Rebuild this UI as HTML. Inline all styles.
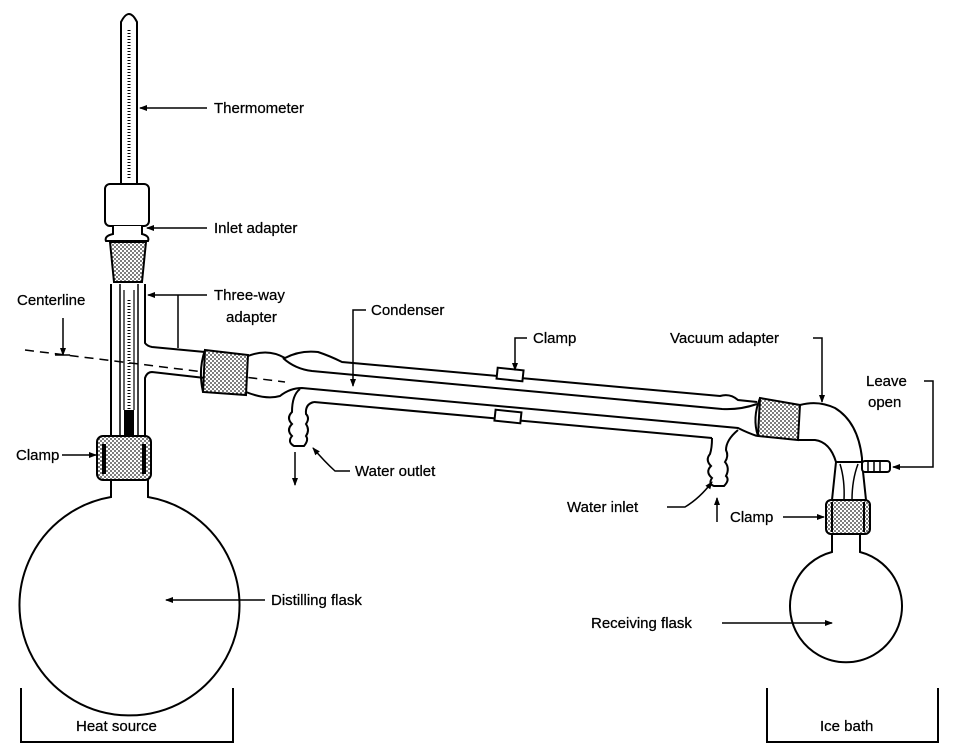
<!DOCTYPE html>
<html><head><meta charset="utf-8"><style>
html,body{margin:0;padding:0;background:#fff;}
svg{display:block;}
text{font-family:"Liberation Sans",sans-serif;font-size:15px;fill:#000;stroke:#000;stroke-width:0.25;}
</style></head><body>
<svg width="960" height="745" viewBox="0 0 960 745" xmlns="http://www.w3.org/2000/svg">
<defs>
<pattern id="dot" width="4" height="4" patternUnits="userSpaceOnUse"><rect width="4" height="4" fill="#fff"/><circle cx="1" cy="1" r="0.9" fill="#222"/><circle cx="3" cy="3" r="0.9" fill="#222"/></pattern>
<marker id="ar" markerWidth="8" markerHeight="8" refX="7" refY="4" orient="auto" markerUnits="userSpaceOnUse"><path d="M0,1 L8,4 L0,7 z" fill="#000"/></marker>
</defs>
<g fill="none" stroke="#000" stroke-width="2">
<!-- thermometer -->
<path d="M121,186 L121,22 Q129,6 137,22 L137,186" fill="#fff"/>
<line x1="129" y1="30" x2="129" y2="180" stroke-width="3" stroke-dasharray="1 2"/>
<rect x="105" y="184" width="44" height="42" rx="5" fill="#fff"/>
<path d="M113,226 L113,234 Q104,236 106,241 L148,241 Q150,236 142,234 L142,226" fill="#fff"/>
<path d="M110,242 L146,242 L142,282 L114,282 Z" fill="url(#dot)"/>
<!-- three-way adapter -->
<path d="M111,284 L111,440 M145,284 L145,343 Q147,346 152,347 L205,352 M145,440 L145,378 Q147,372 152,372 L205,378"/>
<line x1="120" y1="284" x2="120" y2="440" stroke-width="1.5"/>
<line x1="138" y1="284" x2="138" y2="440" stroke-width="1.5"/>
<path d="M124,290 L124,410 M134,290 L134,410" stroke-width="1.2"/>
<path d="M129,300 L129,410" stroke-width="3" stroke-dasharray="1 2"/>
<path d="M125,410 L125,440 L133,440 L133,410" fill="#000"/>
<!-- centerline dashed -->
<path d="M25,350 L285,382" stroke-dasharray="9 6" stroke-width="1.5"/>
<!-- joint 1 -->
<path d="M205,350 L248,355 L246,395 L203,392 Z" fill="url(#dot)"/>
<path d="M205,350 Q198,370 203,392"/>
<!-- condenser -->
<path d="M248,356 Q268,348 285,358 Q300,350 318,352 Q330,356 342,362 L720,396 Q730,393 738,400 L757,402"/>
<path d="M283,358 Q295,369 312,371 L722,409 Q740,410 757,404"/>
<path d="M246,392 Q266,400 280,396 Q290,388 302,388 L738,428 Q748,433 757,436"/>
<path d="M314,402 L712,438"/>
<rect x="497" y="369" width="26" height="11" transform="rotate(6 510 375)" fill="#fff"/>
<rect x="495" y="411" width="26" height="11" transform="rotate(6 508 416)" fill="#fff"/>
<!-- water outlet -->
<path d="M300,389 Q292,395 292,412 Q286,418 292,424 Q286,430 292,436 Q287,442 294,446 L304,446 Q309,440 306,436 Q310,430 306,424 Q310,418 306,414 Q305,404 314,402"/>
<!-- water inlet -->
<path d="M712,438 Q712,448 710,454 Q705,460 711,466 Q705,472 712,478 Q708,484 714,486 L724,486 Q730,480 726,476 Q730,468 725,462 Q729,456 726,450 Q726,440 738,430"/>
<!-- joint 2 -->
<path d="M760,398 L800,405 L798,440 L758,436 Z" fill="url(#dot)"/>
<path d="M760,398 Q752,418 758,436"/>
<!-- vacuum adapter -->
<path d="M800,405 Q818,400 835,408 Q858,422 862,458 L862,462 L836,462 Q830,442 815,440 L798,440"/>
<path d="M836,462 L832,500 M862,462 L866,500"/>
<path d="M840,464 Q845,480 844,500 M858,464 Q852,480 852,500" stroke-width="1.5"/>
<rect x="862" y="461" width="28" height="11" rx="3" fill="#fff"/>
<path d="M868,462 L868,472 M874,462 L874,472 M880,462 L880,472" stroke-width="1.5"/>
<!-- right clamp -->
<rect x="826" y="500" width="44" height="34" rx="5" fill="url(#dot)"/>
<path d="M832,502 L832,532 M864,502 L864,532"/>
<!-- receiving flask -->
<path d="M832,534 L832,552 A56,56 0 1 0 860,552 L860,534"/>
<!-- left clamp -->
<rect x="97" y="436" width="54" height="44" rx="6" fill="url(#dot)"/>
<path d="M104,444 L104,474 M144,444 L144,474" stroke-width="4"/>
<!-- distilling flask -->
<path d="M111,480 L111,497 A110,110 0 1 0 148,497 L148,480"/>
<!-- baths -->
<path d="M21,688 L21,742 L233,742 L233,688"/>
<path d="M767,688 L767,742 L938,742 L938,688"/>
</g>
<!-- labels & leaders -->
<g fill="none" stroke="#000" stroke-width="1.5">
<line x1="207" y1="108" x2="140" y2="108" marker-end="url(#ar)"/>
<line x1="207" y1="228" x2="147" y2="228" marker-end="url(#ar)"/>
<line x1="207" y1="295" x2="148" y2="295" marker-end="url(#ar)"/>
<line x1="178" y1="295" x2="178" y2="348"/>
<line x1="63" y1="318" x2="63" y2="355" marker-end="url(#ar)"/>
<line x1="55" y1="355" x2="70" y2="355"/>
<path d="M366,310 L353,310 L353,386" marker-end="url(#ar)"/>
<path d="M527,338 L515,338 L515,370" marker-end="url(#ar)"/>
<path d="M813,338 L822,338 L822,402" marker-end="url(#ar)"/>
<path d="M924,381 L933,381 L933,467 L893,467" marker-end="url(#ar)"/>
<line x1="62" y1="455" x2="96" y2="455" marker-end="url(#ar)"/>
<path d="M350,471 L335,471 Q325,462 313,448" marker-end="url(#ar)"/>
<line x1="295" y1="452" x2="295" y2="485" marker-end="url(#ar)"/>
<path d="M667,507 L685,507 Q700,498 712,482" marker-end="url(#ar)"/>
<line x1="717" y1="522" x2="717" y2="498" marker-end="url(#ar)"/>
<line x1="783" y1="517" x2="824" y2="517" marker-end="url(#ar)"/>
<line x1="265" y1="600" x2="166" y2="600" marker-end="url(#ar)"/>
<line x1="722" y1="623" x2="832" y2="623" marker-end="url(#ar)"/>
</g>
<text x="214" y="113">Thermometer</text>
<text x="214" y="233">Inlet adapter</text>
<text x="214" y="300">Three-way</text>
<text x="226" y="322">adapter</text>
<text x="17" y="305">Centerline</text>
<text x="371" y="315">Condenser</text>
<text x="533" y="343">Clamp</text>
<text x="670" y="343">Vacuum adapter</text>
<text x="866" y="386">Leave</text>
<text x="868" y="407">open</text>
<text x="16" y="460">Clamp</text>
<text x="355" y="476">Water outlet</text>
<text x="567" y="512">Water inlet</text>
<text x="730" y="522">Clamp</text>
<text x="271" y="605">Distilling flask</text>
<text x="591" y="628">Receiving flask</text>
<text x="76" y="731">Heat source</text>
<text x="820" y="731">Ice bath</text>
</svg>
</body></html>
